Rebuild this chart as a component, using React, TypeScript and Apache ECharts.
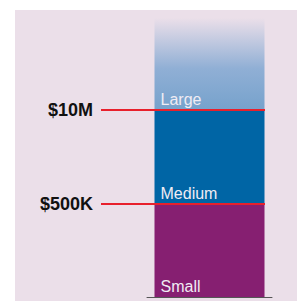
import React, { useEffect, useRef } from "react";
import * as echarts from "echarts";

const categories = ["Company size"];
const segmentNames = ["Small", "Medium", "Large"];
const segmentValues = [93, 94, 92];
const thresholdLabels = ["$500K", "$10M"];

const BG = "#ebdfe9";

export default function App() {
  const ref = useRef<HTMLDivElement>(null);
  useEffect(() => {
    if (!ref.current) return;
    const chart = echarts.init(ref.current, undefined, { renderer: "svg" });
    const total = segmentValues.reduce((a, b) => a + b, 0);
    const thresholds: number[] = [];
    let acc = 0;
    for (let i = 0; i < segmentValues.length - 1; i++) {
      acc += segmentValues[i];
      thresholds.push(acc);
    }
    const colors: any[] = [
      "#861f71",
      "#0065a5",
      new echarts.graphic.LinearGradient(0, 0, 0, 1, [
        { offset: 0, color: "#ebdfe9" },
        { offset: 0.55, color: "#90afd5" },
        { offset: 1, color: "#76a2cc" },
      ]),
    ];
    const labelStyle = {
      show: true,
      position: "insideBottomLeft" as const,
      distance: 6,
      offset: [0, 3],
      color: "#f0ecf4",
      fontSize: 16,
      fontFamily: "Liberation Sans, Arial, sans-serif",
      formatter: "{a}",
    };
    chart.setOption({
      animation: false,
      backgroundColor: "transparent",
      grid: [
        { left: 147, width: 125, top: 18, bottom: 4 },
        { left: 101, width: 164, top: 18, bottom: 4 },
      ],
      xAxis: [
        {
          type: "category",
          data: categories,
          gridIndex: 0,
          axisLine: { show: true, lineStyle: { color: "#555555", width: 1 } },
          axisTick: { show: false },
          axisLabel: { show: false },
        },
        {
          type: "category",
          data: categories,
          gridIndex: 1,
          show: false,
        },
      ],
      yAxis: [
        { type: "value", min: 0, max: total, gridIndex: 0, show: false, splitLine: { show: false } },
        { type: "value", min: 0, max: total, gridIndex: 1, show: false, splitLine: { show: false } },
      ],
      series: [
        ...segmentNames.map((name, i) => ({
          type: "bar",
          name,
          stack: "size",
          xAxisIndex: 0,
          yAxisIndex: 0,
          barWidth: 110,
          data: [segmentValues[i]],
          itemStyle: { color: colors[i] },
          label: labelStyle,
        })),
        {
          type: "line",
          name: "thresholds",
          xAxisIndex: 1,
          yAxisIndex: 1,
          data: [],
          symbol: "none",
          markLine: {
            silent: true,
            symbol: ["none", "none"],
            lineStyle: { color: "#e8202c", width: 2, type: "solid" },
            label: {
              show: true,
              position: "start",
              distance: 8,
              color: "#111111",
              fontSize: 18,
              fontWeight: "bold",
              fontFamily: "Liberation Sans, Arial, sans-serif",
              formatter: (p: any) => p.name,
            },
            data: thresholds.map((v, i) => ({ yAxis: v, name: thresholdLabels[i] })),
          },
        },
      ],
    });
    return () => chart.dispose();
  }, []);
  return (
    <div style={{ position: "absolute", left: 0, top: 0, width: 297, height: 301, background: "#ffffff" }}>
      <div style={{ position: "absolute", left: 15, top: 10, width: 282, height: 291, background: BG }} />
      <div ref={ref} style={{ position: "absolute", left: 0, top: 0, width: 297, height: 301 }} />
    </div>
  );
}
